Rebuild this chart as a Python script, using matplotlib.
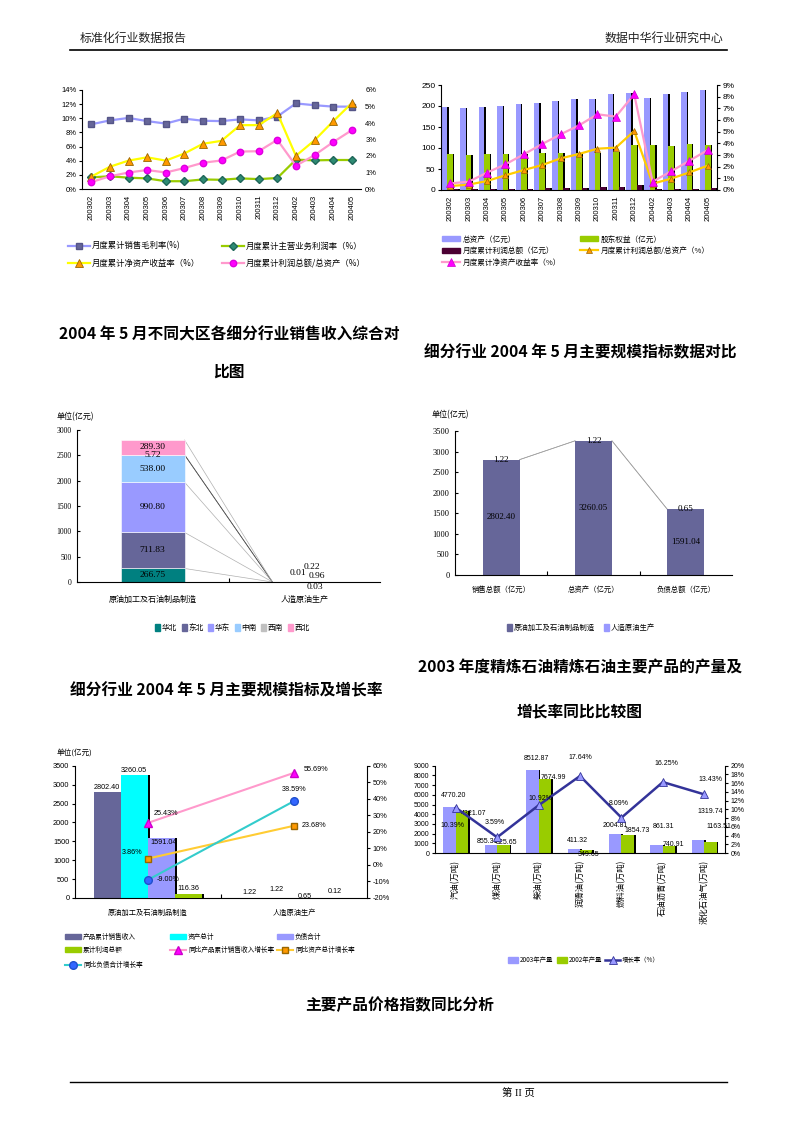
import matplotlib
matplotlib.use('Agg')
import matplotlib.pyplot as plt
from matplotlib.lines import Line2D
from matplotlib.patches import Patch
import numpy as np

CJK = ['Noto Sans CJK SC', 'DejaVu Sans']
SANS = ['Liberation Sans', 'Noto Sans CJK SC', 'DejaVu Sans']
SERIF = ['Liberation Serif', 'Noto Sans CJK SC', 'DejaVu Sans']
plt.rcParams['font.family'] = SANS
plt.rcParams['axes.unicode_minus'] = False

# ---------------- data ----------------
months = ['200302', '200303', '200304', '200305', '200306', '200307', '200308', '200309',
          '200310', '200311', '200312', '200402', '200403', '200404', '200405']
# chart 1
gross_margin = [9.15, 9.7, 10.05, 9.6, 9.25, 9.95, 9.65, 9.6, 9.85, 9.7, 10.25, 12.1, 11.85, 11.65, 11.65]
main_profit_rate = [1.65, 1.8, 1.6, 1.5, 1.1, 1.1, 1.35, 1.3, 1.5, 1.4, 1.55, 4.15, 4.05, 4.1, 4.1]
roe_rate = [0.75, 1.35, 1.72, 1.92, 1.72, 2.15, 2.74, 2.92, 3.87, 3.87, 4.6, 2.01, 2.95, 4.1, 5.2]
profit_to_assets = [0.42, 0.77, 1.0, 1.15, 1.0, 1.27, 1.59, 1.73, 2.27, 2.29, 2.98, 1.41, 2.05, 2.84, 3.56]
c1_labels = ['月度累计销售毛利率(%)', '月度累计主营业务利润率（%）', '月度累计净资产收益率（%）', '月度累计利润总额/总资产（%）']

# chart 2
total_assets = [197, 195, 198, 201, 204, 208, 211, 216, 216, 228, 230, 220, 229, 234, 238]
equity = [85, 83, 85, 85, 86, 87, 87, 87, 89, 90, 106, 106, 105, 109, 108]
profit_total = [1.5, 1.5, 2, 2.5, 3, 4, 5.5, 5.5, 7, 7, 11, 1.5, 2.5, 3.5, 5]
profit_assets_pct = [0.34, 0.46, 0.77, 1.26, 1.71, 2.14, 2.71, 3.09, 3.54, 3.63, 5.06, 0.54, 0.97, 1.51, 2.09]
roe_pct = [0.57, 0.71, 1.49, 2.2, 3.06, 3.94, 4.77, 5.54, 6.49, 6.29, 8.2, 0.71, 1.6, 2.51, 3.43]
c2_labels = ['总资产（亿元）', '股东权益（亿元）', '月度累计利润总额（亿元）', '月度累计利润总额/总资产（%）', '月度累计净资产收益率（%）']

# chart 3
regions = ['华北', '东北', '华东', '中南', '西南', '西北']
industries = ['原油加工及石油制品制造', '人造原油生产']
region_refining = [266.75, 711.83, 990.80, 538.00, 5.72, 289.30]
region_synthetic = [0.22, 0.96, 0.01, 0.03, 0.0, 0.0]

# chart 4
indicators = ['销售总额（亿元）', '总资产（亿元）', '负债总额（亿元）']
ind_refining = [2802.40, 3260.05, 1591.04]
ind_synthetic = [1.22, 1.22, 0.65]

# chart 5
c5_cats = ['原油加工及石油制品制造', '人造原油生产']
sales_rev = [2802.40, 1.22]
assets_sum = [3260.05, 1.22]
liab_sum = [1591.04, 0.65]
profit_sum = [116.36, 0.12]
sales_growth = [25.43, 55.69]
assets_growth = [3.86, 23.68]
liab_growth = [-9.00, 38.59]
c5_labels = ['产品累计销售收入', '资产总计', '负债合计', '累计利润总额',
             '同比产品累计销售收入增长率', '同比资产总计增长率', '同比负债合计增长率']

# chart 6
products = ['汽油(万吨)', '煤油(万吨)', '柴油(万吨)', '润滑油(万吨)', '燃料油(万吨)', '石油沥青(万吨)', '液化石油气(万吨)']
out_2003 = [4770.20, 855.31, 8512.87, 411.32, 2004.81, 861.31, 1319.74]
out_2002 = [4321.07, 825.65, 7674.99, 349.65, 1854.73, 740.91, 1163.51]
growth = [10.39, 3.59, 10.92, 17.64, 8.09, 16.25, 13.43]

# ---------------- helpers ----------------
W, H = 800, 1132
fig = plt.figure(figsize=(W / 100, H / 100), dpi=100)


def add_ax(x0, y0, x1, y1):
    return fig.add_axes([x0 / W, 1 - y1 / H, (x1 - x0) / W, (y1 - y0) / H])


def T(x, y, s, **kw):
    fig.text(x / W, 1 - y / H, s, **kw)


def hline(x0, x1, y, lw=1.0):
    fig.add_artist(Line2D([x0 / W, x1 / W], [1 - y / H, 1 - y / H], color='black', lw=lw,
                          transform=fig.transFigure))


def leg(h, label, x, y, fs=5.5, hl=2.2, hh=0.7, family=CJK, pad=0.3):
    fig.legend([h], [label], loc='center left', bbox_to_anchor=(x / W, 1 - y / H), frameon=False,
               prop={'family': family, 'size': fs}, handlelength=hl, handleheight=hh,
               handletextpad=pad, borderpad=0, borderaxespad=0)


def style(ax, spines=('left', 'bottom')):
    for k, s in ax.spines.items():
        s.set_visible(k in spines)
        s.set_linewidth(0.8)
        s.set_color('black')


def shadow_bars(ax, x, h, w, color, dx, z=2):
    ax.bar(np.asarray(x) + dx, h, w, color='black', zorder=z, linewidth=0)
    ax.bar(x, h, w, color=color, zorder=z + 0.1, linewidth=0)


# ---------------- header / footer / titles ----------------
T(80, 38, '标准化行业数据报告', fontsize=8.6, family=CJK, va='center', ha='left', color='#222222')
T(723, 38, '数据中华行业研究中心', fontsize=8.6, family=CJK, va='center', ha='right', color='#222222')
hline(70, 727, 50, lw=1.2)
hline(70, 727, 1082, lw=1.0)
T(518, 1093, '第 II 页', fontsize=7.5, family=SERIF, va='center', ha='center')

tkw = dict(fontsize=11.3, family=CJK, fontweight='bold', ha='center', va='center')
T(229, 335, '2004 年 5 月不同大区各细分行业销售收入综合对', **tkw)
T(229, 372, '比图', **tkw)
T(580, 352, '细分行业 2004 年 5 月主要规模指标数据对比', **tkw)
T(226, 690, '细分行业 2004 年 5 月主要规模指标及增长率', **tkw)
T(580, 667, '2003 年度精炼石油精炼石油主要产品的产量及', **tkw)
T(580, 712, '增长率同比比较图', **tkw)
T(400, 1005, '主要产品价格指数同比分析', **tkw)

# ---------------- chart 1 ----------------
x15 = np.arange(len(months))
ax1 = add_ax(82, 90, 361, 189)
style(ax1)
l1, = ax1.plot(x15, gross_margin, color='#9999FF', lw=1.6, marker='s', ms=4, mfc='#666699', mec='#555588', zorder=3)
l2, = ax1.plot(x15, main_profit_rate, color='#99CC00', lw=1.6, marker='D', ms=3.6, mfc='#2E8B73', mec='#1F6659', zorder=3)
ax1.set_xlim(-0.5, 14.5)
ax1.set_ylim(0, 14)
ax1.set_yticks(range(0, 15, 2))
ax1.set_yticklabels([f'{v}%' for v in range(0, 15, 2)])
ax1.set_xticks(x15)
ax1.set_xticklabels(months, rotation=90)
ax1.tick_params(axis='y', labelsize=5.5, length=2, pad=2)
ax1.tick_params(axis='x', labelsize=5.5, length=0, pad=4)
ax1b = ax1.twinx()
style(ax1b, ())
l3, = ax1b.plot(x15, roe_rate, color='#FFFF00', lw=1.6, marker='^', ms=5.2, mfc='#FF9900', mec='#996600', mew=0.6, zorder=3)
l4, = ax1b.plot(x15, profit_to_assets, color='#FF99CC', lw=1.6, marker='o', ms=4.6, mfc='#FF00FF', mec='#DD00DD', zorder=3)
ax1b.set_ylim(0, 6)
ax1b.set_yticks(range(0, 7))
ax1b.set_yticklabels([f'{v}%' for v in range(0, 7)])
ax1b.tick_params(axis='y', labelsize=5.5, length=0, pad=3)
leg(l1, c1_labels[0], 68, 246, fs=6, hl=2.6)
leg(l2, c1_labels[1], 222, 246, fs=6, hl=2.6)
leg(l3, c1_labels[2], 68, 263, fs=6, hl=2.6)
leg(l4, c1_labels[3], 222, 263, fs=6, hl=2.6)

# ---------------- chart 2 ----------------
ax2 = add_ax(441, 85, 717, 190)
style(ax2, ('left', 'bottom'))
bw = 0.3
shadow_bars(ax2, x15 - 0.3, total_assets, bw, '#9999FF', 0.07)
shadow_bars(ax2, x15, equity, bw, '#99CC00', 0.07, z=2.3)
shadow_bars(ax2, x15 + 0.3, profit_total, bw, '#4B0033', 0.07, z=2.6)
ax2.set_xlim(-0.5, 14.5)
ax2.set_ylim(0, 250)
ax2.set_yticks(range(0, 251, 50))
ax2.set_xticks(x15)
ax2.set_xticklabels(months, rotation=90)
ax2.tick_params(axis='y', labelsize=6, length=2, pad=2)
ax2.tick_params(axis='x', labelsize=5.5, length=0, pad=4)
ax2b = ax2.twinx()
style(ax2b, ('right',))
m1, = ax2b.plot(x15, profit_assets_pct, color='#FFCC00', lw=1.6, marker='^', ms=5, mfc='#FF9900', mec='#996600', mew=0.5, zorder=4)
m2, = ax2b.plot(x15, roe_pct, color='#FF99CC', lw=1.6, marker='^', ms=5.5, mfc='#FF00FF', mec='#CC00CC', mew=0.5, zorder=4)
ax2b.set_ylim(0, 9)
ax2b.set_yticks(range(0, 10))
ax2b.set_yticklabels([f'{v}%' for v in range(0, 10)])
ax2b.tick_params(axis='y', labelsize=6, length=2, pad=2)
leg(Patch(color='#9999FF'), c2_labels[0], 442, 239.5, fs=5.5, hl=2.4, hh=0.6)
leg(Patch(color='#99CC00'), c2_labels[1], 580, 239.5, fs=5.5, hl=2.4, hh=0.6)
leg(Patch(color='#4B0033'), c2_labels[2], 442, 251, fs=5.5, hl=2.4, hh=0.6)
leg(m1, c2_labels[3], 580, 251, fs=5.5, hl=2.4)
leg(m2, c2_labels[4], 442, 263, fs=5.5, hl=2.4)

# ---------------- chart 3 ----------------
ax3 = add_ax(77, 430, 380, 582)
style(ax3)
reg_colors = ['#008080', '#666699', '#9999FF', '#99CCFF', '#C0C0C0', '#FF99CC']
w3 = 0.42
cum1 = np.concatenate([[0], np.cumsum(region_refining)])
cum2 = np.concatenate([[0], np.cumsum(region_synthetic)])
for i, r in enumerate(regions):
    ax3.bar([0, 1], [region_refining[i], region_synthetic[i]], w3, bottom=[cum1[i], cum2[i]],
            color=reg_colors[i], edgecolor='white', linewidth=0.4, zorder=2)
    ax3.text(0, cum1[i] + region_refining[i] / 2, f'{region_refining[i]:.2f}', ha='center', va='center',
             fontsize=6.8, family=SERIF, zorder=4)
    lc = '#555555' if i in (3, 4) else '#B0B0B0'
    ax3.plot([w3 / 2, 1 - w3 / 2], [cum1[i + 1], cum2[i + 1]], color=lc, lw=0.5, zorder=1)
syn_offsets_px = [(8, 15), (13, 6), (-6, 9), (11, -5)]
for i in range(4):
    ax3.annotate(f'{region_synthetic[i]:.2f}', xy=(1, cum2[i] + region_synthetic[i] / 2),
                 xytext=(syn_offsets_px[i][0] * 0.72, syn_offsets_px[i][1] * 0.72), textcoords='offset points',
                 ha='center', va='center', fontsize=6.8, family=SERIF, zorder=4)
ax3.set_xlim(-0.5, 1.5)
ax3.set_ylim(0, 3000)
ax3.set_yticks(range(0, 3001, 500))
ax3.set_yticklabels([str(v) for v in range(0, 3001, 500)], family=SERIF)
ax3.tick_params(axis='y', labelsize=5.5, length=2, direction='in', pad=4)
ax3.set_xticks([0.5])
ax3.set_xticklabels([''])
ax3.tick_params(axis='x', length=3, direction='in')
ax3.set_xticks([0, 1], minor=True)
ax3.set_xticklabels(industries, minor=True, family=CJK, fontsize=5.8)
ax3.tick_params(axis='x', which='minor', length=0, pad=9)
T(57, 417, '单位(亿元)', fontsize=5.8, family=CJK, ha='left', va='center')
leg_x3 = [155, 181.5, 208, 234.5, 261, 287.5]
for i, r in enumerate(regions):
    leg(Patch(color=reg_colors[i]), r, leg_x3[i], 628, fs=5.5, hl=0.7, hh=0.9, pad=0.2)

# ---------------- chart 4 ----------------
ax4 = add_ax(455, 431, 732, 574.7)
style(ax4)
w4 = 0.4
x3 = np.arange(len(indicators))
ax4.bar(x3, ind_refining, w4, color='#666699', zorder=2)
ax4.bar(x3, ind_synthetic, w4, bottom=ind_refining, color='#9999FF', zorder=2)
tops4 = np.array(ind_refining) + np.array(ind_synthetic)
for i in range(len(indicators) - 1):
    ax4.plot([i + w4 / 2, i + 1 - w4 / 2], [ind_refining[i], ind_refining[i + 1]], color='#A0A0A0', lw=0.5, zorder=1)
    ax4.plot([i + w4 / 2, i + 1 - w4 / 2], [tops4[i], tops4[i + 1]], color='#A0A0A0', lw=0.5, zorder=1)
for i in range(len(indicators)):
    ax4.text(i, ind_refining[i] / 2, f'{ind_refining[i]:.2f}', ha='center', va='center', fontsize=6.5,
             family=SERIF, zorder=4)
    ax4.text(i, ind_refining[i] + ind_synthetic[i] / 2, f'{ind_synthetic[i]:.2f}', ha='center', va='center',
             fontsize=6.5, family=SERIF, zorder=4)
ax4.set_xlim(-0.5, 2.5)
ax4.set_ylim(0, 3500)
ax4.set_yticks(range(0, 3501, 500))
ax4.set_yticklabels([str(v) for v in range(0, 3501, 500)], family=SERIF)
ax4.tick_params(axis='y', labelsize=6, length=2, direction='in', pad=4)
ax4.set_xticks([0.5, 1.5])
ax4.set_xticklabels(['', ''])
ax4.tick_params(axis='x', length=3, direction='in')
ax4.set_xticks(x3, minor=True)
ax4.set_xticklabels(indicators, minor=True, family=CJK, fontsize=5.3)
ax4.tick_params(axis='x', which='minor', length=0, pad=8)
T(432, 415, '单位(亿元)', fontsize=5.8, family=CJK, ha='left', va='center')
leg(Patch(color='#666699'), industries[0], 507, 628, fs=5.3, hl=0.7, hh=0.9, pad=0.2)
leg(Patch(color='#9999FF'), industries[1], 604, 628, fs=5.3, hl=0.7, hh=0.9, pad=0.2)

# ---------------- chart 5 ----------------
ax5 = add_ax(75, 765.7, 367, 898)
style(ax5)
w5 = 0.185
x2 = np.arange(len(c5_cats))
c5_series = [sales_rev, assets_sum, liab_sum, profit_sum]
c5_colors = ['#666699', '#00FFFF', '#9999FF', '#99CC00']
c5_lab_dy_px = [[1, 1, -8, 2], [2, 5, -2, 3]]
c5_lab_dx_px = [[-1, -1, 2, 0], [-4, -4, -3, 0]]
for k, (vals, col) in enumerate(zip(c5_series, c5_colors)):
    xs = x2 + (k - 1.5) * w5
    shadow_bars(ax5, xs, vals, w5, col, 0.012, z=2 + k * 0.3)
    for j in range(len(c5_cats)):
        ax5.annotate(f'{vals[j]:.2f}', xy=(xs[j], vals[j]),
                     xytext=(c5_lab_dx_px[j][k] * 0.72, c5_lab_dy_px[j][k] * 0.72), textcoords='offset points',
                     ha='center', va='bottom', fontsize=5.2, zorder=6)
ax5.set_xlim(-0.5, 1.5)
ax5.set_ylim(0, 3500)
ax5.set_yticks(range(0, 3501, 500))
ax5.tick_params(axis='y', labelsize=5.3, length=2, pad=2)
ax5.set_xticks([0.5])
ax5.set_xticklabels([''])
ax5.tick_params(axis='x', length=3, direction='in')
ax5.set_xticks(x2, minor=True)
ax5.set_xticklabels(c5_cats, minor=True, family=CJK, fontsize=5.2)
ax5.tick_params(axis='x', which='minor', length=0, pad=8)
ax5b = ax5.twinx()
style(ax5b, ('right',))
n1, = ax5b.plot(x2, sales_growth, color='#FF99CC', lw=1.5, marker='^', ms=5.5, mfc='#FF00FF', mec='#CC00CC', zorder=5)
n2, = ax5b.plot(x2, assets_growth, color='#FFCC33', lw=1.5, marker='s', ms=5, mfc='#FF9900', mec='#996600', zorder=5)
n3, = ax5b.plot(x2, liab_growth, color='#33CCCC', lw=1.5, marker='o', ms=5.5, mfc='#3366FF', mec='#1F4FCC', zorder=5)
ax5b.set_ylim(-20, 60)
ax5b.set_yticks(range(-20, 61, 10))
ax5b.set_yticklabels([f'{v}%' for v in range(-20, 61, 10)])
ax5b.tick_params(axis='y', labelsize=5.3, length=2, pad=2)
pct_layout = {
    'sales': [(0.5, 9, 'left'), (4, 3, 'left')],
    'assets': [(0, 6, 'right'), (2, 0, 'left')],
    'liab': [(3, 0, 'left'), (0, 12, 'center')],
}
for key, vals in (('sales', sales_growth), ('assets', assets_growth), ('liab', liab_growth)):
    for j in range(len(vals)):
        dx, dy, ha = pct_layout[key][j]
        ax5b.annotate(f'{vals[j]:.2f}%', xy=(x2[j], vals[j]), xytext=(dx * 0.72 + (4 if ha == 'left' else (-4 if ha == 'right' else 0)), dy * 0.72),
                      textcoords='offset points', ha=ha, va='center', fontsize=5.2, zorder=7)
T(57, 753, '单位(亿元)', fontsize=5.5, family=CJK, ha='left', va='center')
c5_handles = [Patch(color=c) for c in c5_colors] + [n1, n2, n3]
c5_pos = [(65, 937), (170, 937), (277, 937), (65, 950), (170, 950), (277, 950), (65, 965)]
for h, lab, (px, py) in zip(c5_handles, c5_labels, c5_pos):
    if isinstance(h, Patch):
        leg(h, lab, px, py, fs=4.8, hl=2.4, hh=0.8)
    else:
        leg(h, lab, px, py, fs=4.8, hl=2.4)

# ---------------- chart 6 ----------------
ax6 = add_ax(435, 765.7, 725, 853)
style(ax6)
x7 = np.arange(len(products))
w6 = 0.3
shadow_bars(ax6, x7 - w6 / 2, out_2003, w6, '#9999FF', 0.04)
shadow_bars(ax6, x7 + w6 / 2, out_2002, w6, '#99CC00', 0.04, z=2.4)
off03 = [(4.5, 11.7), (-3, 3.6), (4.4, 12.4), (4, 8.3), (0, 7.8), (6.5, 18), (12, 29)]
off02 = [(11.3, -2.3), (3.6, 2.7), (8.6, 1.3), (2.3, -4.4), (9.3, 5), (4.5, 1.8), (8.3, 15.7)]
for i in range(len(products)):
    ax6.annotate(f'{out_2003[i]:.2f}', xy=(x7[i] - w6 / 2, out_2003[i]),
                 xytext=(off03[i][0] * 0.72, off03[i][1] * 0.72), textcoords='offset points',
                 ha='center', va='center', fontsize=5, zorder=6)
    ax6.annotate(f'{out_2002[i]:.2f}', xy=(x7[i] + w6 / 2, out_2002[i]),
                 xytext=(off02[i][0] * 0.72, off02[i][1] * 0.72), textcoords='offset points',
                 ha='center', va='center', fontsize=5, zorder=6)
ax6.set_xlim(-0.5, 6.5)
ax6.set_ylim(0, 9000)
ax6.set_yticks(range(0, 9001, 1000))
ax6.tick_params(axis='y', labelsize=5, length=2, pad=2)
ax6.set_xticks(x7)
ax6.set_xticklabels(products, rotation=90, family=CJK, fontsize=6)
ax6.tick_params(axis='x', length=0, pad=5)
ax6b = ax6.twinx()
style(ax6b, ('right',))
g1, = ax6b.plot(x7, growth, color='#333399', lw=1.8, marker='^', ms=5.5, mfc='#9999FF', mec='#333399', mew=0.6, zorder=5)
offg = [(-3.7, -18.2), (-2, 15.3), (1.5, 6.7), (0, 18.3), (-3, 13.7), (4, 18.7), (6, 15.2)]
for i in range(len(products)):
    ax6b.annotate(f'{growth[i]:.2f}%', xy=(x7[i], growth[i]), xytext=(offg[i][0] * 0.72, offg[i][1] * 0.72),
                  textcoords='offset points', ha='center', va='center', fontsize=5, zorder=7)
ax6b.set_ylim(0, 20)
ax6b.set_yticks(range(0, 21, 2))
ax6b.set_yticklabels([f'{v}%' for v in range(0, 21, 2)])
ax6b.tick_params(axis='y', labelsize=5, length=2, pad=2)
leg(Patch(color='#9999FF'), '2003年产量', 508, 960, fs=4.6, hl=1.6, hh=1.0, pad=0.2)
leg(Patch(color='#99CC00'), '2002年产量', 557, 960, fs=4.6, hl=1.6, hh=1.0, pad=0.2)
leg(g1, '增长率（%）', 605, 960, fs=4.6, hl=2.4, pad=0.2)

fig.savefig('out.png', dpi=100)
